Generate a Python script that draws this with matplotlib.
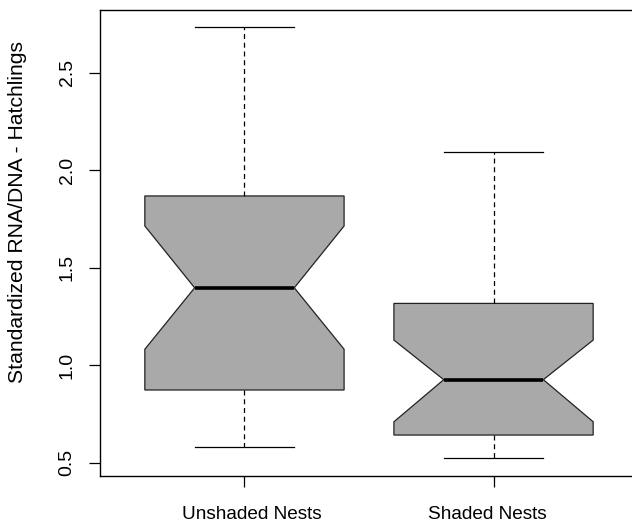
import matplotlib.pyplot as plt
import matplotlib.transforms as mtransforms
import numpy as np

plt.rcParams['font.family'] = ['Liberation Sans', 'DejaVu Sans']

# five-number summaries plus notch limits for each nest group
groups = ['Unshaded Nests', 'Shaded Nests']
whisk_lo = [0.580, 0.523]
q1 = [0.873, 0.642]
ci_lo = [1.082, 0.710]
median = [1.397, 0.926]
ci_hi = [1.714, 1.129]
q3 = [1.868, 1.317]
whisk_hi = [2.734, 2.093]
y_ticks = [0.5, 1.0, 1.5, 2.0, 2.5]

stats = []
for i, name in enumerate(groups):
    stats.append(dict(label=name, whislo=whisk_lo[i], q1=q1[i], med=median[i],
                      q3=q3[i], whishi=whisk_hi[i], cilo=ci_lo[i], cihi=ci_hi[i],
                      fliers=[]))

W, H = 632, 524
fig = plt.figure(figsize=(W / 100, H / 100), dpi=100)
# plot region in pixels (right edge runs slightly past the canvas)
left, right, top, bottom = 100, 638, 10, 476
ax = fig.add_axes([left / W, 1 - bottom / H, (right - left) / W, (bottom - top) / H])

ax.bxp(stats, positions=[1, 2], widths=0.8, shownotches=True, patch_artist=True,
       boxprops=dict(facecolor='#a9a9a9', edgecolor='#222222', linewidth=0.9),
       whiskerprops=dict(color='black', linewidth=0.9, linestyle=(0, (4, 3))),
       capprops=dict(color='black', linewidth=0.9),
       medianprops=dict(color='black', linewidth=2.6, solid_capstyle='butt'))

ax.set_xlim(0.42, 2.58)
ax.set_ylim(0.432, 2.8215)
ax.set_yticks(y_ticks)
ax.set_yticklabels(['%.1f' % v for v in y_ticks], rotation=90, va='center')
ax.set_xticks([1, 2])
ax.set_xticklabels(groups)
ax.tick_params(axis='both', direction='out', length=8, width=0.9, colors='black')
ax.tick_params(axis='y', pad=9.5, labelsize=14)
ax.tick_params(axis='x', pad=13.5, labelsize=13.7)
for s in ax.spines.values():
    s.set_linewidth(1.0)
    s.set_color('black')

# nudge the group names sideways a little
for lab, dx in zip(ax.get_xticklabels(), [7, -6]):
    lab.set_transform(lab.get_transform() +
                      mtransforms.ScaledTranslation(dx / 100, 0, fig.dpi_scale_trans))

fig.text(18 / W, 1 - 212 / H, 'Standardized RNA/DNA - Hatchlings', rotation=90,
         ha='center', va='center', fontsize=15.2)

fig.savefig('out.png', dpi=100)
